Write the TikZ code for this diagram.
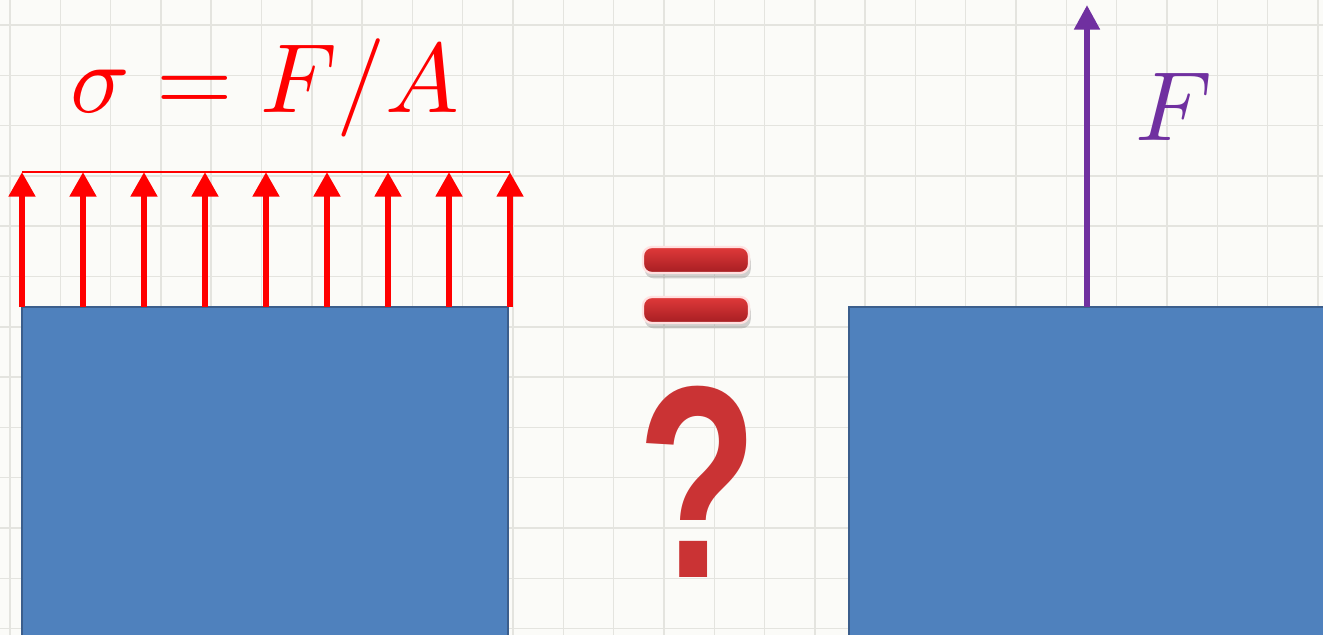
\documentclass[tikz,border=0pt]{standalone}
\usepackage{fontspec}
\usepackage{unicode-math}
\setmathfont{Latin Modern Math}
\newfontfamily\qfont{Liberation Sans}
\usetikzlibrary{positioning,arrows.meta,calc,shadows}
\definecolor{blockblue}{HTML}{4F81BD}
\definecolor{blockedge}{HTML}{3B5E8C}
\definecolor{forcepurple}{HTML}{7030A0}
\definecolor{eqtop}{HTML}{E0393A}
\definecolor{eqbot}{HTML}{A61E22}
\definecolor{gridgray}{HTML}{E4E4DF}
\definecolor{paper}{HTML}{FBFBF8}

\begin{document}
\begin{tikzpicture}[
  x=0.02cm, y=-0.02cm,
  block/.style={fill=blockblue, draw=blockedge, line width=1.4pt},
  stress/.style={-{Triangle[length=14pt,width=14.5pt]}, red, line width=3.6pt},
  force/.style={-{Triangle[length=14pt,width=14pt]}, forcepurple, line width=3.4pt},
  bar/.style={draw=red!12, line width=1.3pt, top color=eqtop, bottom color=eqbot, rounded corners=5pt,
    minimum width=2.12cm, minimum height=0.52cm, drop shadow={opacity=0.35, shadow xshift=1pt, shadow yshift=-3pt}},
  big/.style={font=\fontsize{56}{68}\selectfont}
]
  \useasboundingbox (0,0) rectangle (1323,635);
  \clip (0,0) rectangle (1323,635);
  % paper with grid
  \fill[paper] (0,0) rectangle (1323,635);
  \foreach \i in {0,...,26}
    \draw[gridgray, line width=0.8pt] ({10+50.3*\i},0) -- ({10+50.3*\i},635);
  \foreach \j in {0,...,12}
    \draw[gridgray, line width=0.8pt] (0,{25+50.3*\j}) -- (1323,{25+50.3*\j});

  % blocks
  \filldraw[block] (22,650) -- (22,307) -- (508,307) -- (508,650) -- cycle;
  \filldraw[block] (849,650) -- (849,307) -- (1340,307) -- (1340,650) -- cycle;

  % distributed stress
  \node[red, big] (s) at (265,88) {$\sigma = F/A$};
  \foreach \i in {0,...,8} {
    \coordinate (b\i) at ({22+61*\i},307);
    \coordinate (t\i) at ({22+61*\i},172);
    \draw[stress] (b\i) -- (t\i);
  }
  \draw[red, line width=1.2pt] (t0) -- (t8);

  % equals and question
  \node[bar] (e1) at (696,260) {};
  \node[bar] (e2) at (696,310) {};
  \node[anchor=base, text=eqtop!90!black, font=\qfont\bfseries\fontsize{156}{156}\selectfont, xscale=0.72] (q) at (698,577) {?};

  % resultant force
  \coordinate (fb) at (1087,307);
  \coordinate (ft) at (1087,5);
  \draw[force] (fb) -- (ft);
  \node[forcepurple, big] (f) at (1174,107) {$F$};
\end{tikzpicture}
\end{document}
